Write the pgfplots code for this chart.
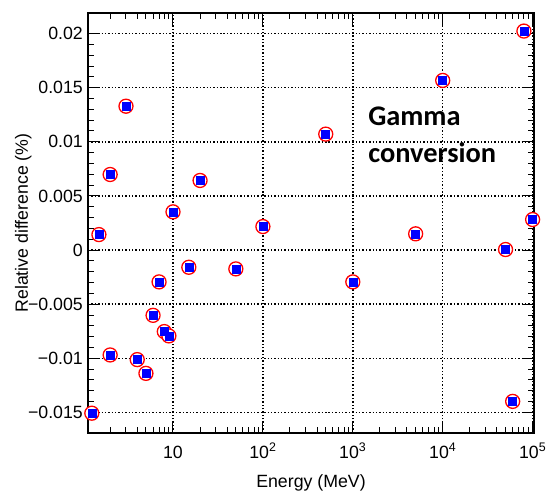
\documentclass[border=0pt]{standalone}
\usepackage{fontspec}
\setmainfont{Liberation Sans}
\newfontfamily\calib{Carlito}
\usepackage{pgfplots}
\usepackage{pgfplotstable}
\pgfplotsset{compat=1.18}

% Relative difference vs. energy
\pgfplotstableread{
E       rd
1.25    -0.01507
1.5      0.00143
2        0.00698
2       -0.00969
3        0.01329
4       -0.01012
5       -0.01139
6       -0.00603
7       -0.00294
8       -0.00753
9       -0.00793
10       0.00353
15      -0.00159
20       0.00643
50      -0.00174
100      0.00217
500      0.01071
1000    -0.00294
5000     0.00150
10000    0.01567
50000    0.00005
60000   -0.01398
80000    0.02023
100000   0.00282
}\gammadata

\begin{document}
\begin{tikzpicture}
\path[use as bounding box] (-88bp,-59bp) rectangle (461bp,433bp);
\begin{axis}[
  scale only axis, width=446bp, height=420bp,
  xmode=log, xmin=1.134, xmax=1.036e5,
  ymin=-0.0169, ymax=0.0219,
  axis line style={black, line width=1.5bp},
  tick align=inside, xtick pos=both, ytick pos=both,
  major tick length=12bp, minor tick length=6bp,
  tick style={black, line width=1bp},
  xtick={10,100,1000,10000,100000},
  xticklabels={10, 10\textsuperscript{2}, 10\textsuperscript{3}, 10\textsuperscript{4}, 10\textsuperscript{5}},
  minor xtick={2,3,4,5,6,7,8,9,20,30,40,50,60,70,80,90,200,300,400,500,600,700,800,900,2000,3000,4000,5000,6000,7000,8000,9000,20000,30000,40000,50000,60000,70000,80000,90000},
  ytick={-0.015,-0.01,-0.005,0,0.005,0.01,0.015,0.02},
  yticklabels={−0.015,−0.01,−0.005,0,0.005,0.01,0.015,0.02},
  minor y tick num=4,
  scaled y ticks=false,
  grid=major,
  major grid style={black, line width=1.4pt, dotted},
  ticklabel style={font=\fontsize{17.8}{20}\selectfont, inner sep=0pt},
  xticklabel style={anchor=base, yshift=-25bp},
  yticklabel style={anchor=east, xshift=-5bp},
  xlabel={Energy (MeV)},
  ylabel={Relative difference (\%)},
  every axis x label/.style={at={(axis description cs:0.5,-0.1286)}, anchor=base,
    inner sep=0pt, font=\fontsize{17.8}{20}\selectfont},
  every axis y label/.style={at={(axis description cs:-0.135,0.5)}, rotate=90, anchor=base,
    inner sep=0pt, font=\fontsize{17.8}{20}\selectfont},
]
\addplot[only marks, mark=*, mark size=7bp,
  mark options={draw=red, fill=white, line width=1.3bp}] table[x=E, y=rd] {\gammadata};
\addplot[only marks, mark=square*, mark size=4bp,
  mark options={draw=blue, fill=blue, line width=0.5bp}] table[x=E, y=rd] {\gammadata};

\node[anchor=base west, inner sep=0pt, font=\calib\bfseries\fontsize{28.5}{34}\selectfont]
  at (axis description cs:0.628,0.733) {Gamma};
\node[anchor=base west, inner sep=0pt, font=\calib\bfseries\fontsize{28.5}{34}\selectfont]
  at (axis description cs:0.628,0.645) {conversion};
\end{axis}
\end{tikzpicture}
\end{document}
